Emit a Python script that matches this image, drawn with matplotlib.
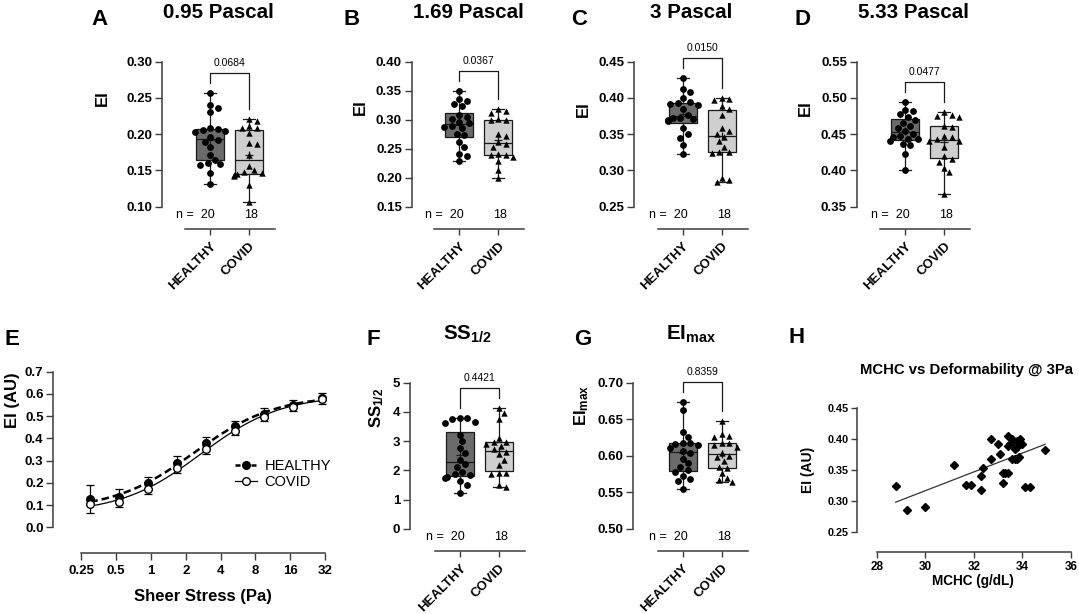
import numpy as np
import matplotlib
matplotlib.use("Agg")
import matplotlib.pyplot as plt
from matplotlib.lines import Line2D

plt.rcParams["font.family"] = ["Liberation Sans", "DejaVu Sans"]
plt.rcParams["mathtext.fontset"] = "custom"
plt.rcParams["mathtext.rm"] = "Liberation Sans"
plt.rcParams["mathtext.bf"] = "Liberation Sans:bold"
plt.rcParams["mathtext.it"] = "Liberation Sans:italic"

W, H = 1079, 614
AX_COLOR = "#3c3c3c"
LINE = "#1a1a1a"

# === 数据 ===
groups = ["HEALTHY", "COVID"]
n_counts = [20, 18]

ei_095_healthy = [0.257, 0.240, 0.236, 0.231, 0.209, 0.207, 0.206, 0.205, 0.203, 0.196,
                  0.192, 0.189, 0.183, 0.172, 0.165, 0.160, 0.159, 0.157, 0.147, 0.131]
ei_095_covid = [0.221, 0.218, 0.211, 0.209, 0.208, 0.201, 0.188, 0.186, 0.172,
                0.156, 0.150, 0.148, 0.146, 0.145, 0.144, 0.143, 0.130, 0.107]

ei_169_healthy = [0.350, 0.335, 0.333, 0.327, 0.323, 0.308, 0.305, 0.302, 0.296, 0.294,
                  0.290, 0.288, 0.285, 0.276, 0.274, 0.262, 0.253, 0.241, 0.237, 0.228]
ei_169_covid = [0.318, 0.315, 0.312, 0.302, 0.300, 0.299, 0.275, 0.272, 0.262,
                0.258, 0.253, 0.241, 0.240, 0.239, 0.236, 0.228, 0.213, 0.199]

ei_3_healthy = [0.427, 0.413, 0.408, 0.400, 0.395, 0.393, 0.392, 0.390, 0.385, 0.377,
                0.373, 0.372, 0.371, 0.370, 0.368, 0.358, 0.350, 0.345, 0.335, 0.322]
ei_3_covid = [0.400, 0.398, 0.397, 0.389, 0.385, 0.377, 0.358, 0.355, 0.350,
              0.346, 0.340, 0.333, 0.326, 0.325, 0.324, 0.290, 0.287, 0.284]

ei_533_healthy = [0.495, 0.484, 0.482, 0.478, 0.474, 0.470, 0.466, 0.462, 0.458, 0.455,
                  0.450, 0.448, 0.446, 0.444, 0.443, 0.440, 0.437, 0.435, 0.423, 0.400]
ei_533_covid = [0.480, 0.477, 0.475, 0.474, 0.462, 0.460, 0.448, 0.446, 0.443,
                0.441, 0.440, 0.432, 0.420, 0.416, 0.412, 0.404, 0.398, 0.368]

ss_half_healthy = [3.80, 3.78, 3.76, 3.65, 3.62, 3.22, 3.00, 2.78, 2.58, 2.35,
                   2.20, 2.12, 1.95, 1.87, 1.83, 1.78, 1.75, 1.62, 1.50, 1.23]
ss_half_covid = [4.12, 3.95, 3.75, 3.12, 2.98, 2.96, 2.90, 2.82, 2.72,
                 2.62, 2.55, 2.35, 2.18, 1.92, 1.90, 1.88, 1.48, 1.42]

ei_max_healthy = [0.673, 0.662, 0.632, 0.626, 0.618, 0.617, 0.616, 0.614, 0.610, 0.606,
                  0.604, 0.596, 0.590, 0.585, 0.580, 0.577, 0.572, 0.568, 0.565, 0.555]
ei_max_covid = [0.648, 0.630, 0.627, 0.625, 0.618, 0.617, 0.615, 0.612, 0.604,
                0.600, 0.598, 0.593, 0.585, 0.583, 0.576, 0.570, 0.567, 0.564]

p_values = ["0.0684", "0.0367", "0.0150", "0.0477", "0.4421", "0.8359"]

# 变形曲线 (E)
shear_stress = [0.3, 0.53, 0.95, 1.69, 3.0, 5.33, 9.49, 16.87, 30.0]
ei_curve_healthy = [0.126, 0.135, 0.198, 0.288, 0.378, 0.455, 0.510, 0.550, 0.580]
ei_sd_healthy = [0.064, 0.037, 0.030, 0.033, 0.027, 0.025, 0.025, 0.024, 0.022]
ei_curve_covid = [0.105, 0.112, 0.171, 0.265, 0.351, 0.435, 0.498, 0.543, 0.576]
ei_sd_covid = [0.039, 0.019, 0.020, 0.020, 0.020, 0.020, 0.020, 0.020, 0.020]
shear_ticks = [0.25, 0.5, 1, 2, 4, 8, 16, 32]
shear_tick_labels = ["0.25", "0.5", "1", "2", "4", "8", "16", "32"]

# MCHC vs EI @ 3Pa (H)
mchc = [28.78, 29.26, 29.98, 31.18, 31.67, 31.90, 32.29, 32.29, 32.39, 32.69, 32.69,
        32.99, 33.09, 33.19, 33.19, 33.28, 33.39, 33.39, 33.39, 33.47, 33.53, 33.58,
        33.58, 33.69, 33.69, 33.79, 33.79, 33.79, 33.88, 33.84, 33.99, 34.09, 34.30, 34.93]
ei_3pa = [0.324, 0.286, 0.291, 0.359, 0.326, 0.327, 0.319, 0.341, 0.353, 0.369, 0.401,
          0.392, 0.377, 0.330, 0.345, 0.345, 0.406, 0.390, 0.345, 0.392, 0.394, 0.400,
          0.369, 0.369, 0.385, 0.388, 0.369, 0.398, 0.400, 0.372, 0.392, 0.323, 0.323, 0.382]


def px_axes(fig, left, right, top, bottom):
    return fig.add_axes([left / W, 1 - bottom / H, (right - left) / W, (bottom - top) / H])


def swarm_offsets(values, px_per_unit, size=6.5, step=2.5, limit=15.0):
    # 简单蜂群算法：像素空间内避免点重叠
    ys = np.asarray(values, dtype=float) * px_per_unit
    order = np.argsort(-ys)
    cands = [0.0]
    k = 1
    while k * step <= limit:
        cands += [k * step, -k * step]
        k += 1
    placed = []
    offs = np.zeros(len(ys))
    for i in order:
        best = cands[-1]
        for c in cands:
            if all((c - px) ** 2 + (ys[i] - py) ** 2 >= size ** 2 for px, py in placed):
                best = c
                break
        offs[i] = best
        placed.append((best, ys[i]))
    return offs


def style_axis(ax):
    for s in ["top", "right"]:
        ax.spines[s].set_visible(False)
    for s in ["left", "bottom"]:
        ax.spines[s].set_color(AX_COLOR)
        ax.spines[s].set_linewidth(1.1)
    ax.tick_params(direction="out", color=AX_COLOR, width=1.0, length=5)


def box_panel(fig, left, box0, top, bottom, ylim, ystep, yfmt,
              healthy, covid, pval, title, letter, letter_x, ylabel, ylabel_xy,
              title_y, letter_y, ylabel_size=12):
    unit = 39.0
    right = box0 + 1.68 * unit
    ax = px_axes(fig, left, right, top, bottom)
    ax.set_xlim(-(box0 - left) / unit, 1.68)
    ax.set_ylim(*ylim)
    dpp = (ylim[1] - ylim[0]) / (bottom - top)

    bp = ax.boxplot([healthy, covid], positions=[0, 1], widths=0.72, whis=(0, 100),
                    patch_artist=True, showmeans=True, showfliers=False, capwidths=0.3,
                    medianprops=dict(color=LINE, lw=0.9),
                    boxprops=dict(edgecolor=LINE, lw=0.9),
                    whiskerprops=dict(color=LINE, lw=0.9),
                    capprops=dict(color=LINE, lw=0.9),
                    meanprops=dict(marker="+", markeredgecolor=LINE, markersize=6, mew=0.9))
    for patch, fc in zip(bp["boxes"], ["#6b6b6b", "#cfcfcf"]):
        patch.set_facecolor(fc)

    for pos, vals, mk, sz in [(0, healthy, "o", 24), (1, covid, "^", 21)]:
        offs = swarm_offsets(vals, 1 / dpp) / unit
        ax.scatter(pos + offs, vals, marker=mk, s=sz, color="black", zorder=4, linewidths=0)

    # p 值括号
    top_all = max(max(healthy), max(covid))
    yb = top_all + 20 * dpp
    ax.plot([0, 0, 1, 1], [max(healthy) + 10 * dpp, yb, yb, max(covid) + 10 * dpp],
            color=LINE, lw=0.9, clip_on=False)
    ax.text(0.5, yb + 10 * dpp, pval, ha="center", va="center", fontsize=7.5, clip_on=False)

    # n 标签
    ax.text(0.12, ylim[0] - 8.5 * dpp, f"n =  {n_counts[0]}", ha="right", va="center", fontsize=9)
    ax.text(1.05, ylim[0] - 8.5 * dpp, f"{n_counts[1]}", ha="center", va="center", fontsize=9)

    style_axis(ax)
    ax.spines["left"].set_bounds(*ylim)
    ax.spines["bottom"].set_position(("outward", 16.3))
    ax.spines["bottom"].set_bounds(-0.64, 1.67)
    yt = np.arange(ylim[0], ylim[1] + ystep / 2, ystep)
    ax.set_yticks(yt, [yfmt % v for v in yt], fontweight="bold", fontsize=9.5)
    ax.set_xticks([0, 1], groups, rotation=45, ha="right", rotation_mode="anchor",
                  fontweight="bold", fontsize=9.5)
    ax.tick_params(axis="y", pad=2)
    ax.tick_params(axis="x", length=4, pad=4)

    cx = (left + right) / 2
    fig.text(cx / W, 1 - title_y / H, title, ha="center", va="baseline",
             fontsize=14.8, fontweight="bold")
    fig.text(letter_x / W, 1 - letter_y / H, letter, ha="center", va="baseline",
             fontsize=16, fontweight="bold")
    fig.text(ylabel_xy[0] / W, 1 - ylabel_xy[1] / H, ylabel, ha="center", va="center",
             rotation=90, fontsize=ylabel_size, fontweight="bold")
    return ax


fig = plt.figure(figsize=(W / 100, H / 100), dpi=100)

# === 上排: A-D ===
top_panels = [
    (162.0, 210.0, (0.10, 0.30), 0.05, ei_095_healthy, ei_095_covid, p_values[0], "0.95 Pascal", "A", 100, (102, 98)),
    (411.7, 459.3, (0.15, 0.40), 0.05, ei_169_healthy, ei_169_covid, p_values[1], "1.69 Pascal", "B", 352, (360, 107)),
    (634.3, 682.7, (0.25, 0.45), 0.05, ei_3_healthy, ei_3_covid, p_values[2], "3 Pascal", "C", 579, (583, 109)),
    (856.7, 905.3, (0.35, 0.55), 0.05, ei_533_healthy, ei_533_covid, p_values[3], "5.33 Pascal", "D", 802, (805, 108)),
]
for left, box0, ylim, step, hv, cv, pv, title, letter, lx, yl in top_panels:
    box_panel(fig, left, box0, 61.7, 206.7, ylim, step, "%.2f", hv, cv, pv, title,
              letter, lx, "EI", yl, 18.5, 25)

# === F, G ===
box_panel(fig, 410.0, 460.0, 382.7, 528.7, (0, 5), 1, "%d", ss_half_healthy, ss_half_covid,
          p_values[4], r"SS$_\mathbf{1/2}$", "F", 373, r"SS$_\mathbf{1/2}$", (377, 408), 339.5, 345)
box_panel(fig, 633.3, 682.7, 382.7, 528.7, (0.50, 0.70), 0.05, "%.2f", ei_max_healthy, ei_max_covid,
          p_values[5], r"EI$_\mathbf{max}$", "G", 583, r"EI$_\mathbf{max}$", (582, 405), 339.5, 345)

# === E: 变形曲线 ===
ax = px_axes(fig, 53.3, 335, 371.7, 527.3)
ax.set_xscale("log", base=2)
ax.set_xlim(0.25 * 2 ** (-28 / 35), 32 * 2 ** (10 / 35))
ax.set_ylim(0, 0.7)

ss = np.asarray(shear_stress)


def fit_curve(y):
    # EI = lo + (hi - lo) / (1 + (s50/SS)^n), 网格搜索 s50, n; lo/hi 最小二乘
    y = np.asarray(y)
    best = None
    for s50 in np.geomspace(0.5, 8, 90):
        for n in np.linspace(0.5, 2.5, 60):
            f = 1 / (1 + (s50 / ss) ** n)
            A = np.column_stack([1 - f, f])
            coef, *_ = np.linalg.lstsq(A, y, rcond=None)
            err = np.sum((A @ coef - y) ** 2)
            if best is None or err < best[0]:
                best = (err, s50, n, coef)
    _, s50, n, (lo, hi) = best
    xs = np.geomspace(ss.min(), ss.max(), 200)
    return xs, lo + (hi - lo) / (1 + (s50 / xs) ** n)


xh, yh = fit_curve(ei_curve_healthy)
xc, yc = fit_curve(ei_curve_covid)
ax.plot(xh, yh, color="black", lw=1.8, ls=(0, (3, 1.6)), zorder=2)
ax.plot(xc, yc, color="black", lw=0.9, zorder=2)
ax.errorbar(ss, ei_curve_healthy, yerr=[np.zeros(len(ss)), ei_sd_healthy], fmt="none",
            ecolor="black", elinewidth=0.9, capsize=3, capthick=0.9, zorder=3)
ax.errorbar(ss, ei_curve_covid, yerr=[ei_sd_covid, np.zeros(len(ss))], fmt="none",
            ecolor="black", elinewidth=0.9, capsize=3, capthick=0.9, zorder=3)
ax.plot(ss, ei_curve_healthy, "o", ms=5.5, color="black", zorder=4)
ax.plot(ss, ei_curve_covid, "o", ms=5.5, mfc="white", mec="black", mew=1.0, zorder=5)

style_axis(ax)
ax.spines["left"].set_bounds(0, 0.7)
ax.spines["bottom"].set_position(("outward", 18.5))
ax.spines["bottom"].set_bounds(0.25, 32)
ax.set_xticks(shear_ticks, shear_tick_labels, fontweight="bold", fontsize=9.5)
ax.xaxis.set_minor_locator(matplotlib.ticker.NullLocator())
yt = np.arange(0, 0.71, 0.1)
ax.set_yticks(yt, ["%.1f" % v for v in yt], fontweight="bold", fontsize=9.5)
ax.tick_params(axis="y", pad=2)

handles = [Line2D([], [], color="black", lw=1.8, ls=(0, (2, 1.2)), marker="o", ms=5.5),
           Line2D([], [], color="black", lw=0.9, marker="o", ms=5.5, mfc="white", mec="black")]
fig.legend(handles, groups, loc="upper left", bbox_to_anchor=(228 / W, 1 - 452 / H),
           frameon=False, fontsize=10.5, handlelength=1.5, handletextpad=0.5,
           labelspacing=0.15, borderpad=0)

fig.text(12 / W, 1 - 400 / H, "EI (AU)", rotation=90, ha="center", va="center",
         fontsize=12, fontweight="bold")
fig.text(203 / W, 1 - 601.5 / H, "Sheer Stress (Pa)", ha="center", va="baseline",
         fontsize=12, fontweight="bold")
fig.text(12 / W, 1 - 345 / H, "E", ha="center", va="baseline", fontsize=16, fontweight="bold")

# === H: MCHC 散点 ===
ax = px_axes(fig, 856.7, 1074, 408.3, 532.3)
ax.set_xlim(28 - 20 / 24.25, 36 + 3 / 24.25)
ax.set_ylim(0.25, 0.45)
ax.plot(mchc, ei_3pa, "D", ms=3.6, color="black", zorder=3)
k, b = np.polyfit(mchc, ei_3pa, 1)
xl = np.array([min(mchc), max(mchc)])
ax.plot(xl, k * xl + b, color="#333333", lw=0.9, zorder=2)

style_axis(ax)
ax.spines["left"].set_bounds(0.25, 0.45)
ax.spines["bottom"].set_position(("outward", 14.4))
ax.spines["bottom"].set_bounds(28, 36)
ax.set_xticks([28, 30, 32, 34, 36], ["28", "30", "32", "34", "36"], fontweight="bold", fontsize=8.5)
yt = np.arange(0.25, 0.451, 0.05)
ax.set_yticks(yt, ["%.2f" % v for v in yt], fontweight="bold", fontsize=7.8)
ax.tick_params(length=4, pad=2)

fig.text(966 / W, 1 - 374 / H, "MCHC vs Deformability @ 3Pa", ha="center", va="baseline",
         fontsize=10.7, fontweight="bold")
fig.text(973 / W, 1 - 585 / H, "MCHC (g/dL)", ha="center", va="baseline",
         fontsize=9.8, fontweight="bold")
fig.text(808 / W, 1 - 470 / H, "EI (AU)", rotation=90, ha="center", va="center",
         fontsize=10, fontweight="bold")
fig.text(797 / W, 1 - 343 / H, "H", ha="center", va="baseline", fontsize=16, fontweight="bold")

fig.savefig("out.png", dpi=100)
